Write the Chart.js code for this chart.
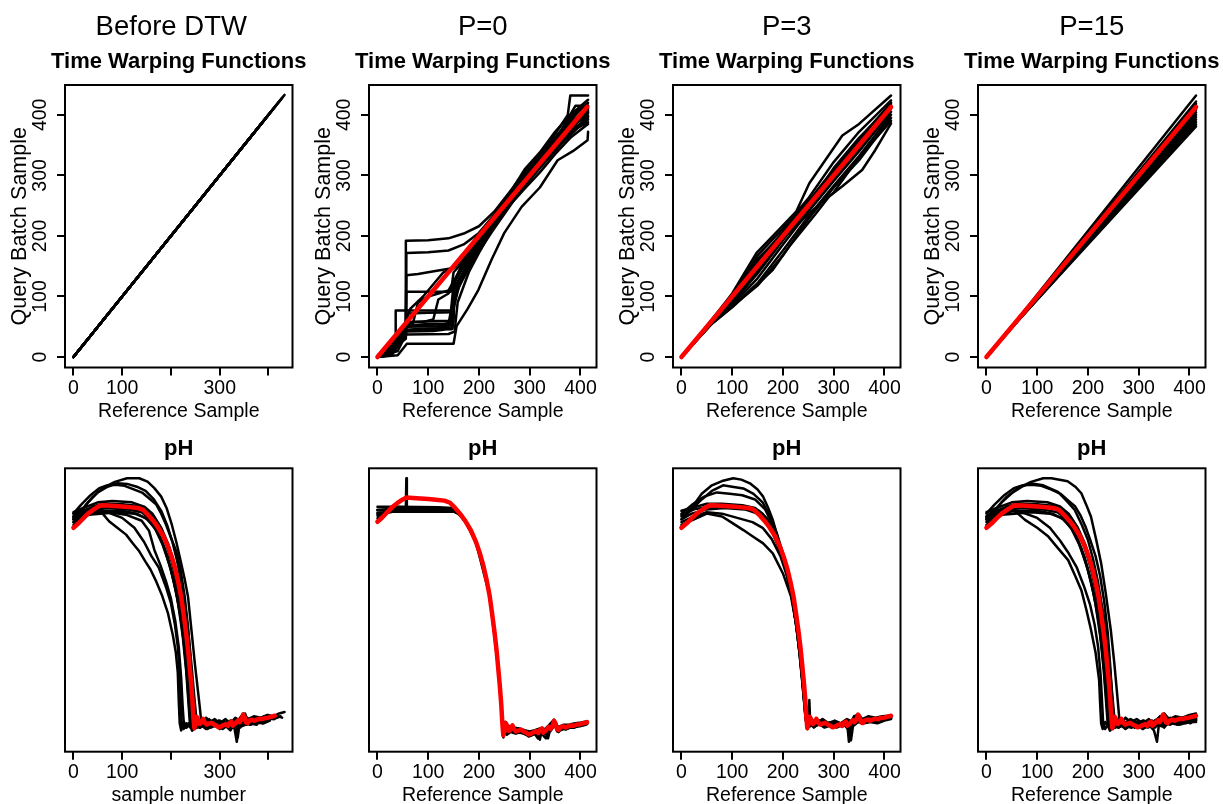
<!DOCTYPE html>
<html>
<head>
<meta charset="utf-8">
<script src="https://cdn.jsdelivr.net/npm/chart.js@4.4.1/dist/chart.umd.min.js"></script>
<style>
html,body{margin:0;padding:0;background:#fff;overflow:hidden;width:1223px;height:804px;position:relative}
canvas{position:absolute}
</style>
</head>
<body>
<canvas id="t0" width="330" height="430" style="left:0px;top:0px"></canvas>
<canvas id="t1" width="330" height="430" style="left:304px;top:0px"></canvas>
<canvas id="t2" width="330" height="430" style="left:608px;top:0px"></canvas>
<canvas id="t3" width="330" height="430" style="left:913px;top:0px"></canvas>
<canvas id="b0" width="330" height="390" style="left:0px;top:430px"></canvas>
<canvas id="b1" width="330" height="390" style="left:304px;top:430px"></canvas>
<canvas id="b2" width="330" height="390" style="left:608px;top:430px"></canvas>
<canvas id="b3" width="330" height="390" style="left:913px;top:430px"></canvas>
<script>
// ---------------- text ----------------
const columnTitles = ['Before DTW', 'P=0', 'P=3', 'P=15'];
const warpTitle = 'Time Warping Functions';
const phTitle = 'pH';
const warpXTitle = 'Reference Sample';
const warpYTitle = 'Query Batch Sample';
const phXTitles = ['sample number', 'Reference Sample', 'Reference Sample', 'Reference Sample'];

// ---------------- ticks ----------------
const xTickValues = [0, 100, 200, 300, 400];
const xTickLabelsBefore = ['0', '100', '', '300', ''];
const xTickLabelsAligned = ['0', '100', '200', '300', '400'];
const yTickValues = [0, 100, 200, 300, 400];
const yTickLabels = ['0', '100', '200', '300', '400'];

// ---------------- time warping functions (reference sample, query sample) ----------------
const warpBefore = [
  [[0,0],[433,433]], [[0,0],[428,428]], [[0,0],[422,422]], [[0,0],[415,415]],
  [[0,0],[410,410]], [[0,0],[405,405]], [[0,0],[400,400]], [[0,0],[395,395]],
  [[0,0],[390,390]], [[0,0],[385,385]], [[0,0],[380,380]], [[0,0],[376,376]]
];
const warpReference = [[0,0],[413,413]];

const warpP0 = [
  [[0,0],[25,15],[55,35],[56,192],[100,193],[140,196],[170,204],[200,216],[230,240],[260,272],[290,305],[320,335],[350,368],[375,400],[380,432],[415,432]],
  [[0,0],[30,18],[56,40],[57,172],[100,173],[140,176],[170,186],[200,205],[230,235],[260,268],[290,300],[320,330],[350,360],[380,395],[400,412],[415,415]],
  [[0,0],[30,20],[56,48],[57,135],[80,137],[120,143],[150,147],[175,168],[200,195],[230,228],[260,262],[290,296],[320,325],[350,355],[380,380],[415,405]],
  [[0,0],[28,12],[56,30],[57,108],[90,108],[145,108],[150,140],[175,163],[200,188],[230,222],[260,255],[290,288],[320,322],[350,350],[385,385],[415,398]],
  [[0,0],[20,5],[35,20],[36,77],[70,77],[145,77],[150,120],[170,150],[200,185],[230,220],[260,258],[290,290],[320,318],[350,345],[380,375],[415,392]],
  [[0,0],[25,8],[55,50],[100,55],[145,55],[152,110],[170,140],[200,180],[230,215],[260,252],[290,282],[320,312],[350,340],[380,372],[415,388]],
  [[0,0],[30,10],[55,45],[100,47],[148,48],[150,100],[165,130],[200,175],[230,212],[260,248],[290,285],[320,320],[350,352],[380,386],[415,410]],
  [[0,0],[40,3],[58,22],[150,22],[156,51],[178,80],[199,111],[225,161],[250,205],[284,248],[320,280],[355,325],[385,340],[414,358],[415,372]],
  [[0,0],[30,15],[56,55],[70,56],[80,90],[100,100],[120,105],[140,110],[160,140],[200,190],[230,226],[260,262],[290,298],[320,332],[350,362],[380,392],[415,420]],
  [[0,0],[25,10],[56,57],[90,58],[110,62],[120,95],[140,105],[155,130],[200,192],[230,230],[260,265],[290,292],[320,322],[350,358],[380,388],[415,412]],
  [[0,0],[30,5],[50,40],[56,60],[65,80],[90,100],[130,140],[155,150],[200,200],[230,232],[260,270],[290,310],[320,338],[350,372],[380,400],[415,425]],
  [[0,0],[20,2],[56,42],[110,43],[130,45],[140,55],[155,120],[200,185],[230,218],[260,250],[290,278],[320,305],[350,335],[380,362],[415,385]],
  [[0,0],[35,30],[56,52],[130,54],[150,58],[152,125],[175,170],[200,198],[240,245],[280,290],[320,330],[360,372],[390,415],[415,415]],
  [[0,0],[30,8],[56,44],[100,45],[147,46],[150,80],[160,115],[200,178],[240,232],[280,278],[320,318],[360,352],[415,398]],
  [[0,0],[35,12],[56,50],[120,51],[148,52],[151,95],[170,135],[200,182],[240,236],[280,282],[320,324],[360,362],[415,402]],
  [[0,0],[25,5],[45,20],[56,58],[100,59],[140,60],[146,62],[150,105],[175,150],[200,186],[240,238],[280,286],[320,328],[360,366],[415,408]],
  [[0,0],[40,10],[56,37],[140,38],[152,42],[158,90],[180,140],[200,172],[240,230],[280,276],[320,314],[360,350],[415,395]],
  [[0,0],[15,2],[35,25],[56,34],[60,72],[100,73],[150,74],[153,112],[180,158],[200,189],[240,240],[280,284],[320,326],[360,364],[415,404]]
];

const warpP3 = [
  [[0,0],[60,62],[100,105],[148,172],[186,205],[226,240],[252,287],[317,366],[350,385],[413,432]],
  [[0,0],[60,61],[100,100],[150,168],[200,212],[250,262],[300,322],[350,372],[413,424]],
  [[0,0],[60,59],[100,97],[150,158],[200,207],[250,257],[300,310],[350,360],[413,420]],
  [[0,0],[60,58],[100,93],[150,148],[200,201],[250,252],[300,302],[350,352],[413,414]],
  [[0,0],[60,57],[100,89],[150,138],[200,193],[250,246],[300,297],[350,346],[413,410]],
  [[0,0],[60,56],[100,86],[150,130],[200,186],[250,240],[300,291],[350,340],[413,405]],
  [[0,0],[60,55],[100,83],[150,122],[200,176],[250,232],[300,283],[350,332],[413,400]],
  [[0,0],[60,55],[100,82],[160,128],[180,144],[212,182],[265,237],[291,265],[317,282],[356,309],[382,342],[413,386]],
  [[0,0],[60,57],[100,90],[150,142],[200,196],[250,236],[300,272],[350,330],[413,390]],
  [[0,0],[60,60],[100,99],[150,162],[200,203],[250,250],[300,312],[350,362],[413,416]],
  [[0,0],[60,59],[100,95],[150,152],[200,199],[250,254],[300,305],[350,355],[413,418]],
  [[0,0],[60,56],[100,84],[150,118],[200,168],[250,228],[300,280],[350,325],[413,395]]
];

const warpP15 = [
  [[0,0],[60,61],[413,432]], [[0,0],[60,60],[413,422]], [[0,0],[60,60],[413,418]],
  [[0,0],[60,60],[413,415]], [[0,0],[60,60],[413,412]], [[0,0],[60,59],[413,408]],
  [[0,0],[60,59],[413,404]], [[0,0],[60,59],[413,400]], [[0,0],[60,59],[413,396]],
  [[0,0],[60,58],[413,392]], [[0,0],[60,58],[413,388]], [[0,0],[60,58],[413,384]],
  [[0,0],[60,58],[413,381]]
];

// ---------------- pH trajectories (sample, relative pH level) ----------------
const phReference = [[0,79],[10,80.5],[20,82.3],[30,84],[40,85.3],[50,86.4],[57,87],[70,86.9],[85,86.7],[100,86.5],[115,86.3],[132,86],[143,85.3],[153,83.6],[163,81.6],[173,79.3],[184,76.2],[194,72.4],[202,68.5],[209,64.3],[215,59.8],[221,54.6],[226,48.5],[231,42],[235,36],[238,30.5],[241,25],[244,18.5],[246,12.5],[248,8.3],[250,9.5],[253,12.3],[256,11.2],[259,9.8],[263,10.3],[266,11.6],[269,10.4],[273,9.6],[278,9.9],[283,10.2],[288,9.6],[293,9.2],[298,8.6],[303,8.9],[308,9.4],[313,9.7],[317,9.1],[320,10.1],[324,10.6],[327,9.2],[331,9.8],[335,10.6],[338,11.1],[341,10.4],[345,11.4],[348,13.1],[351,12.2],[354,10.3],[357,10.1],[361,11],[366,11.3],[371,10.9],[376,11.3],[381,11.6],[387,11.5],[393,11.9],[399,12],[405,12.3],[410,12.5],[413,12.7]];

const phBefore = [
  [[0,83],[20,86],[40,90],[60,93],[85,95.2],[110,96.5],[135,96.5],[152,95.3],[166,93],[180,90],[191,86],[201,80.6],[211,74],[221,66.5],[228,61],[235,54.7],[242,43],[249,31.2],[255,22],[259,15.9],[262,11],[266,10],[272,12],[280,10.5],[290,11.5],[300,10],[312,11.5],[322,10],[332,12],[340,11],[348,13.5],[358,11.5],[370,12.5],[384,12],[398,13],[410,12.5],[422,13.5],[433,14]],
  [[0,82],[15,84.5],[30,88],[50,91.5],[70,93.5],[90,94.7],[110,94.5],[130,93.5],[148,92],[165,89],[180,85],[192,80],[203,74],[213,67],[222,59],[230,50],[237,40],[243,29],[248,19],[252,12],[255,9],[260,11],[268,10],[278,11.5],[288,10],[300,11],[310,9.5],[322,11],[334,10],[344,12.5],[354,10.5],[366,12],[378,11],[392,12.5],[405,12]],
  [[0,84],[15,87],[35,90.5],[53,93],[70,94],[87,94.2],[105,93.8],[125,92.5],[142,91.3],[158,89],[170,87.2],[180,84],[190,80.1],[200,75.5],[211,70.7],[220,64],[228,55],[235,44],[240,32],[244,20],[247,11],[251,9],[257,10.5],[265,9],[275,10.5],[287,9.5],[298,11],[310,9],[322,10.5],[334,9.5],[344,11.5],[356,10],[368,11.5],[380,10.5],[395,11.5]],
  [[0,83],[15,84.5],[40,86.5],[60,87.5],[100,87.3],[130,86.8],[150,85.3],[165,83],[180,79],[195,73],[208,66],[220,57],[230,47],[238,35],[244,23],[248,13],[251,8.5],[256,10.5],[262,9],[270,10.5],[280,8.5],[292,10],[303,8.5],[315,10.5],[325,9],[335,11.5],[345,9.5],[355,12],[368,10.5],[380,12],[392,11],[405,12.5],[415,12]],
  [[0,81],[20,83.5],[45,85.5],[70,86],[110,85.5],[140,84.5],[158,82],[172,78],[186,72],[200,64],[212,55],[222,45],[230,33],[236,21],[240,11.5],[244,7.5],[250,10],[258,8.5],[268,10],[278,9],[290,10.5],[300,8],[310,9.5],[322,7.5],[332,10.5],[342,8.5],[352,11],[364,9.5],[376,11],[388,10],[400,11.5]],
  [[0,84.5],[20,86],[50,88],[80,88.5],[120,88],[145,86.5],[162,84],[178,79.5],[192,73.5],[205,65.5],[217,55.5],[227,44.5],[235,31.5],[241,19.5],[245,10.5],[249,8],[255,9.5],[264,11],[272,9],[284,10],[296,8.5],[308,10],[320,9],[333,10],[337,5],[341,10.5],[352,12.5],[362,10.5],[374,11.5],[386,10.5],[398,12],[410,11.5],[425,12.5]],
  [[0,82],[25,83.5],[55,84],[90,84.5],[125,84],[148,82.5],[165,79.5],[180,75],[193,69],[205,61],[215,52],[224,41],[231,29],[236,17],[239,9.5],[243,7.5],[250,9.5],[260,8.5],[270,10],[282,8.5],[294,9.5],[306,8],[318,9.5],[330,8.5],[335,3.5],[339,9],[350,10.5],[362,9.5],[375,11],[390,10],[403,11]],
  [[0,82.5],[20,84.5],[45,86.5],[65,87.5],[105,87],[135,86],[155,84],[170,81],[185,76],[199,69],[211,61],[222,51],[231,39],[238,27],[244,15.5],[247,9.5],[252,8.5],[258,10.5],[266,9],[276,10.5],[288,9.5],[300,10.5],[312,9],[324,11],[336,9.5],[346,12],[356,10.5],[368,12],[380,11],[394,12],[408,11.5],[420,12.5],[428,12]],
  [[0,80],[20,82.5],[40,84.5],[60,85],[100,85],[130,84],[152,82],[168,78.5],[183,73],[197,66],[209,58],[219,49],[227,38],[233,26],[238,14.5],[241,8.5],[246,10],[254,8.5],[262,9.5],[272,8],[284,9.5],[296,9],[308,10.5],[320,9.5],[330,11],[342,9.5],[354,11],[366,10],[378,11.5],[392,10.5]],
  [[0,84],[30,85.5],[60,86.5],[95,86],[130,85.5],[155,83.5],[172,80],[188,74.5],[202,67],[214,58],[224,48],[233,36],[240,24],[246,13.5],[250,9],[254,10.5],[260,8.5],[268,10],[278,8.5],[290,10],[302,9],[314,10.5],[326,9.5],[336,11.5],[346,10],[352,13.5],[358,10.5],[370,11.5],[384,10.5],[398,12],[412,11.5]],
  [[0,83],[20,85],[45,86],[60,84],[73,81.3],[90,79],[108,76.6],[122,73.5],[135,70.7],[148,67],[158,64.3],[170,60],[182,55],[194,48.8],[204,41],[210,35],[214,28],[216,18],[218,10],[221,7.5],[226,10.5],[232,8.5],[240,10],[250,8.5],[262,9.5],[275,8],[288,9.5],[300,8.5],[314,10],[328,9],[340,10.5],[352,9.5],[365,10.5],[380,10]],
  [[0,82],[20,84],[45,85.5],[70,84.5],[100,82.5],[125,79],[145,74],[160,69],[175,65],[190,58],[200,52.4],[208,45],[214,37],[218,27],[220,17],[222,10],[226,8],[232,10],[240,8.5],[252,10],[264,9],[276,10],[290,9],[304,10],[318,8.5],[332,9.5],[346,9],[360,10],[376,9.5]],
  [[0,81],[20,83],[45,84.5],[75,84.5],[110,83.5],[140,81.5],[155,78],[166,71.2],[178,66],[190,60],[200,54],[209,46],[216,37],[221,26],[224,16],[226,11],[230,8.5],[236,10],[244,8.5],[256,9.5],[270,8.5],[284,10],[298,9],[312,9.5],[326,8.5],[340,10],[354,9.5],[370,10.5],[388,10]]
];

const phP0 = [
  [[0,84],[20,84],[56,83.8],[57,93.4],[58,83.8],[100,83.6],[140,83.4],[152,83],[163,81.2],[173,79],[184,75.8],[194,72],[202,68.2],[209,64],[215,59.5],[221,54.3],[226,48.2],[231,41.7],[235,35.7],[238,30.2],[241,24.7],[244,18.2],[246,12.2],[248,7.6],[250,8.8],[253,11.6],[256,10.5],[259,9.1],[263,9.6],[266,10.9],[269,9.7],[273,8.9],[278,9.2],[283,9.5],[288,8.9],[293,8.5],[298,7.9],[303,8.2],[308,8.7],[313,9],[317,8.4],[320,9.4],[324,9.9],[327,8.5],[331,9.1],[335,9.9],[338,10.4],[341,9.7],[345,10.7],[348,12.4],[351,11.5],[354,9.6],[357,9.4],[361,10.3],[366,10.6],[371,10.2],[376,10.6],[381,10.9],[387,10.8],[393,11.2],[399,11.3],[405,11.6],[410,11.8],[413,12]],
  [[0,81],[14,81.2],[24,82.8],[30,83],[60,83.1],[100,83],[140,82.8],[150,82.5],[160,81.5],[173,79.2],[184,76],[194,72.2],[209,64.2],[221,54.5],[231,41.8],[238,30.3],[244,18.3],[248,8],[251,9.5],[255,8.5],[262,9.5],[270,9],[280,9.3],[290,8.8],[300,8.2],[310,8.8],[316,7.3],[320,9.8],[328,8],[332,7.3],[336,10.3],[345,10.8],[348,12.5],[354,9.8],[362,10.5],[372,10.6],[384,11],[396,11.5],[413,12.2]],
  [[0,80.2],[8,80.3],[20,82],[30,82.3],[60,82.3],[100,82.3],[140,82.3],[150,82.4],[160,81.7],[173,79.4],[184,76.1],[194,72.3],[209,64.3],[221,54.6],[231,42],[238,30.5],[244,18.5],[248,8.5],[252,12.8],[256,11.8],[263,10.9],[270,10.8],[280,10.6],[290,10],[300,9.6],[310,10],[320,10.6],[330,10.4],[338,11.7],[348,13.5],[356,11],[366,11.8],[378,11.9],[390,12.3],[402,12.6],[413,13]],
  [[0,82],[20,82.2],[27,83.3],[60,83.3],[100,83.2],[140,83],[150,82.8],[158,82],[163,81.4],[173,79.1],[184,75.9],[194,72.1],[209,64.1],[221,54.4],[231,41.9],[238,30.4],[244,18.4],[248,8.1],[253,11.9],[259,9.4],[266,11.2],[273,9.2],[283,9.8],[293,8.8],[303,8.5],[313,9.3],[320,6.9],[324,10],[331,9.4],[336,7.3],[340,10.1],[348,12.7],[354,10],[361,10.6],[371,10.5],[381,11.2],[393,11.5],[405,11.9],[413,12.3]],
  [[0,83],[25,83.2],[40,84],[80,83.9],[120,83.8],[148,83.6],[158,82.3],[166,80.8],[175,78.8],[186,75.4],[196,71.6],[209,64.2],[221,54.5],[231,41.9],[238,30.4],[244,18.4],[248,8.2],[251,10.2],[256,10.8],[263,9.9],[270,10.1],[280,9.6],[290,9.3],[300,8.7],[310,9.2],[320,9.7],[330,9.5],[340,10.6],[348,12.8],[356,10.1],[366,11],[378,11.1],[390,11.6],[402,12],[413,12.4]],
  [[0,82.8],[60,82.8],[100,82.7],[140,82.8],[152,82.6],[163,81.3],[173,79.1],[184,75.9],[194,72.1],[209,64.1],[221,54.4],[231,41.8],[238,30.3],[244,18.3],[248,7.9],[252,10.4],[258,9.3],[266,10.4],[276,9.2],[288,9.1],[298,8.3],[308,8.9],[318,8.8],[326,8.8],[334,9.6],[342,10.2],[348,12.6],[356,9.9],[368,10.8],[380,11.2],[394,11.6],[413,12.3]],
  [[0,81.6],[18,81.8],[26,83.6],[60,83.7],[120,83.6],[150,83.3],[160,81.9],[173,79.2],[194,72.2],[221,54.5],[238,30.4],[248,8.1],[254,10.5],[264,9.7],[276,9.5],[290,9.1],[304,8.6],[318,9.2],[330,9.3],[340,10.2],[348,12.4],[358,9.8],[372,10.7],[388,11.1],[413,12.1]]
];

const phP3 = [
  [[0,83],[20,86],[40,91],[60,94],[80,95.5],[102,96.5],[118,96],[135,94.7],[150,92.5],[161,90],[171,86],[180,81.8],[190,75.5],[200,69],[210,62],[220,52],[228,42],[234,33],[240,22],[245,12],[248,8],[251,9],[252,18.2],[254,9],[262,11],[270,9.5],[282,10.5],[295,9],[306,10.5],[318,9.5],[326,11],[330,3.5],[333,10],[342,12],[350,13],[356,10.5],[366,11.5],[378,11],[392,12],[405,12],[413,12.5]],
  [[0,82],[20,85.5],[40,89],[60,92],[82,94],[100,93.5],[122,92.9],[142,91],[160,88],[175,83],[188,77],[200,70],[212,61],[222,50],[230,40],[236,30],[241,20],[245,11],[249,8.5],[256,11],[266,9.5],[278,11],[290,9.5],[302,10],[314,9],[324,10.5],[334,9],[344,12],[352,12.5],[360,10.5],[372,11.5],[386,11],[400,12],[413,12.2]],
  [[0,84],[20,87],[45,90],[70,91.5],[95,91],[120,90.5],[145,89],[165,85.5],[180,80],[194,73],[206,65],[217,55],[226,45],[233,35],[239,24],[244,14],[248,9],[253,10.5],[262,9],[274,10.5],[288,9],[300,10],[312,9],[322,11],[332,7],[336,10],[346,11.5],[356,11],[368,11],[382,11.5],[396,11.5],[413,12]],
  [[0,80],[25,82],[50,84],[80,83],[96,81.2],[122,78.2],[140,76],[161,73.5],[180,70],[200,62.9],[216,54.7],[225,46],[232,36],[238,25],[243,15],[247,9],[252,10.5],[260,9.5],[272,10.5],[286,9.5],[298,10],[310,9],[320,10.5],[330,9],[340,11.5],[352,11],[364,11],[378,10.5],[392,11.5],[413,12]],
  [[0,81],[25,83],[50,84.5],[80,84],[110,82.5],[140,81],[160,79],[178,75],[195,69],[208,62],[219,53],[228,43],[235,32],[241,21],[245,12],[249,8.5],[255,10],[264,9],[276,10],[290,9],[304,10.5],[318,9.5],[330,10.5],[342,10],[354,11],[368,10.5],[384,11],[400,11.5],[413,11.8]],
  [[0,85],[20,86],[50,87.5],[80,87.5],[120,87],[145,86],[160,84],[175,80],[190,74.5],[204,67],[216,58],[226,47],[233,36],[239,25],[244,15],[248,9],[254,11],[262,9.5],[272,11],[284,10],[296,10.5],[308,9.5],[320,10.5],[330,9],[340,12.5],[348,13],[358,11],[370,11.5],[384,11],[398,12],[413,12.3]],
  [[0,82],[20,84],[50,85.5],[85,86],[125,85.5],[150,84],[166,81.5],[180,77],[194,71],[206,63.5],[217,55],[226,45],[233,34],[239,23],[244,13],[248,8],[253,10],[261,8.5],[270,10],[282,8.5],[294,9.5],[306,8.5],[318,10],[328,8],[334,4],[338,9],[348,10.5],[360,10],[372,10.5],[386,10],[400,11],[413,11.5]],
  [[0,83.5],[25,85.5],[55,86.5],[90,86.5],[128,86],[152,85],[168,82.5],[182,78],[196,72],[208,64.5],[218,56],[227,46],[234,35],[240,24],[245,13.5],[249,9],[256,11.5],[266,10],[278,11.5],[290,10],[302,11],[314,10],[326,11.5],[338,10.5],[346,13],[356,11.5],[368,12.5],[382,12],[396,12.5],[413,12.8]]
];

const phP15 = [
  [[0,83],[20,86],[40,90],[62,93],[88,95.2],[112,96.5],[128,96.5],[160,95.4],[175,93.5],[187,91.2],[197,87],[206,82.9],[216,75],[226,66.5],[235,56],[245,43],[252,31.2],[258,19.4],[262,11.2],[266,10],[274,12],[284,10.5],[296,11.5],[308,10],[320,11.5],[330,10],[340,12],[350,13.5],[360,11.5],[372,12.5],[386,12],[400,13],[413,13.5]],
  [[0,82],[15,84.5],[30,88],[52,91.5],[70,93.5],[86,94.7],[112,94],[141,91.7],[158,88.5],[174,85.3],[188,80],[200,74.7],[210,68],[219,60.6],[228,51],[236,43],[243,30],[248,20],[252,12],[256,9],[262,11],[272,10],[284,11.5],[296,10],[308,11],[320,9.5],[332,11],[344,12.5],[356,10.5],[370,12],[386,11.5],[400,12],[413,12.5]],
  [[0,84],[15,87],[35,90.5],[54,93],[72,94],[90,94.2],[108,93.8],[128,92.5],[146,91],[162,88.5],[175,86.5],[185,83.5],[195,79.5],[205,74.5],[215,69],[224,62],[232,53],[239,42],[244,30],[248,18],[251,10.5],[255,9],[262,10.5],[272,9],[284,10.5],[298,9.5],[310,11],[322,9],[334,10.5],[346,11.5],[358,10],[372,11.5],[388,10.5],[413,11.5]],
  [[0,83],[20,85],[45,86],[62,84],[76,81.8],[100,79],[122,75.9],[140,72],[161,67.6],[175,62],[187,57],[197,50],[206,43],[215,35],[222,25.3],[224,17],[226,10],[229,8],[234,10.5],[242,8.5],[252,10],[264,9],[278,10],[292,8.5],[306,10],[320,9],[334,10.5],[348,9.5],[362,10.5],[378,10],[396,10.5],[413,11]],
  [[0,82],[20,84],[45,85.5],[70,84.5],[100,82.5],[125,79],[145,74.5],[162,70],[178,65],[193,58],[204,52],[213,45],[220,37],[225,27],[228,17],[230,10],[234,8],[240,10],[250,8.5],[262,10],[276,9],[290,10],[304,9],[318,8.5],[332,9.5],[346,9],[362,10],[380,9.5],[398,10.5],[413,10.5]],
  [[0,83],[15,84.5],[40,86.5],[60,87.5],[100,87.3],[130,86.8],[150,85.3],[165,83],[180,79],[195,73],[208,66],[220,57],[230,47],[238,35],[244,23],[248,13],[251,8.5],[256,10.5],[264,9],[274,10.5],[286,8.5],[298,10],[310,8.5],[322,10.5],[332,9],[342,11.5],[352,9.5],[362,12],[374,10.5],[386,12],[400,11],[413,12.5]],
  [[0,81],[20,83.5],[45,85.5],[70,86],[110,85.5],[140,84.5],[158,82],[172,78],[186,72],[200,64],[212,55],[222,45],[230,33],[236,21],[240,11.5],[244,7.5],[250,10],[260,8.5],[272,10],[284,9],[296,10.5],[308,8],[320,9.5],[330,7.5],[336,3.5],[340,10],[350,8.5],[362,11],[376,9.5],[390,11],[402,10],[413,11.5]],
  [[0,84.5],[20,86],[50,88],[80,88.5],[120,88],[145,86.5],[162,84],[178,79.5],[192,73.5],[205,65.5],[217,55.5],[227,44.5],[235,31.5],[241,19.5],[245,10.5],[249,8],[255,9.5],[264,11],[274,9],[286,10],[298,8.5],[310,10],[322,9],[334,10],[342,12.5],[352,10.5],[364,11.5],[376,10.5],[390,12],[402,11.5],[413,12.5]],
  [[0,82],[25,83.5],[55,84],[90,84.5],[125,84],[148,82.5],[165,79.5],[180,75],[193,69],[205,61],[215,52],[224,41],[231,29],[236,17],[239,9.5],[243,7.5],[250,9.5],[260,8.5],[272,10],[284,8.5],[296,9.5],[308,8],[320,9.5],[332,8.5],[340,10],[350,10.5],[362,9.5],[376,11],[392,10],[413,11]],
  [[0,82.5],[20,84.5],[45,86.5],[65,87.5],[105,87],[135,86],[155,84],[170,81],[185,76],[199,69],[211,61],[222,51],[231,39],[238,27],[244,15.5],[247,9.5],[252,8.5],[258,10.5],[268,9],[278,10.5],[290,9.5],[302,10.5],[314,9],[326,11],[336,9.5],[346,12],[356,10.5],[368,12],[380,11],[394,12],[413,12]],
  [[0,80],[20,82.5],[40,84.5],[60,85],[100,85],[130,84],[152,82],[168,78.5],[183,73],[197,66],[209,58],[219,49],[227,38],[233,26],[238,14.5],[241,8.5],[246,10],[254,8.5],[264,9.5],[274,8],[286,9.5],[298,9],[310,10.5],[322,9.5],[332,11],[344,9.5],[356,11],[368,10],[382,11.5],[396,10.5],[413,11.5]]
];

// ---------------- axis ranges ----------------
const xRangeBefore = [-17.3, 449.3];
const xRangeAligned = [-16.6, 431.6];
const warpYRange = [-17.3, 449.3];
const phYRange = [0, 100];
const phYRangeP0 = [2.9, 96.7];

// ---------------- drawing ----------------
const FONT = "'Liberation Sans', Arial, Helvetica, sans-serif";
const toPts = a => a.map(p => ({x: p[0], y: p[1]}));

const framePlugin = {
  id: 'frame',
  afterDatasetsDraw(chart) {
    const a = chart.chartArea, ctx = chart.ctx;
    ctx.save();
    ctx.strokeStyle = '#000';
    ctx.lineWidth = 2;
    ctx.strokeRect(a.left, a.top, a.right - a.left, a.bottom - a.top);
    ctx.restore();
  }
};
const titlesPlugin = {
  id: 'titles',
  afterDraw(chart, args, opts) {
    const a = chart.chartArea, ctx = chart.ctx;
    const cx = (a.left + a.right) / 2;
    ctx.save();
    ctx.fillStyle = '#000';
    ctx.textAlign = 'center';
    ctx.textBaseline = 'alphabetic';
    (opts.lines || []).forEach(l => { ctx.font = l.font; ctx.fillText(l.text, cx + (l.dx || 0), l.y); });
    ctx.restore();
  }
};

function makeChart(id, o) {
  const ds = [];
  if (o.red) ds.push({data: toPts(o.red), borderColor: '#ff0000', borderWidth: 4.5, order: 0});
  o.black.forEach(l => ds.push({data: toPts(l), borderColor: '#000000', borderWidth: 2.5, order: 1}));
  ds.forEach(d => Object.assign(d, {showLine: true, pointRadius: 0, pointHoverRadius: 0, fill: false,
    tension: 0, borderCapStyle: 'round', borderJoinStyle: 'round'}));
  const tickGrid = {drawOnChartArea: false, drawTicks: true, tickLength: 8, color: '#000', lineWidth: 2};
  const tickFont = {family: FONT, size: 19.5};
  const yScale = o.top ? {
    type: 'linear', position: 'left', min: o.yr[0], max: o.yr[1],
    afterBuildTicks: s => { s.ticks = yTickValues.map(v => ({value: v})); },
    afterFit: s => { s.width = 65; },
    ticks: {autoSkip: false, minRotation: 90, maxRotation: 90, crossAlign: 'center', padding: 0,
      color: '#000', font: tickFont, callback: (v, i) => yTickLabels[i]},
    grid: tickGrid, border: {display: false},
    title: {display: true, text: warpYTitle, color: '#000', font: {family: FONT, size: 21.5}, padding: {top: 7.5, bottom: 0}}
  } : {type: 'linear', display: false, min: o.yr[0], max: o.yr[1]};
  new Chart(document.getElementById(id), {
    type: 'scatter',
    data: {datasets: ds},
    options: {
      responsive: false, animation: false, devicePixelRatio: 1, events: [],
      layout: {padding: {left: o.top ? 0 : 65, top: o.top ? 85 : 38.3, right: 37.5, bottom: 0}},
      plugins: {legend: {display: false}, tooltip: {enabled: false}, title: {display: false},
        titles: {lines: o.titles}},
      scales: {
        x: {
          type: 'linear', position: 'bottom', min: o.xr[0], max: o.xr[1],
          afterBuildTicks: s => { s.ticks = xTickValues.map(v => ({value: v})); },
          afterFit: s => { s.height = o.top ? 62.5 : 68.3; },
          ticks: {autoSkip: false, minRotation: 0, maxRotation: 0, padding: 1, color: '#000', font: tickFont,
            callback: (v, i) => o.xLabels[i]},
          grid: tickGrid, border: {display: false},
          title: {display: true, text: o.xTitle, color: '#000', font: tickFont,
            padding: {top: 0, bottom: o.top ? 7.1 : 12.9}}
        },
        y: yScale
      }
    },
    plugins: [framePlugin, titlesPlugin]
  });
}

const topTitles = (i, dx) => [
  {text: columnTitles[i], font: `27.5px ${FONT}`, y: 35, dx: dx},
  {text: warpTitle, font: `bold 22px ${FONT}`, y: 68}
];
const bottomTitles = [{text: phTitle, font: `bold 22px ${FONT}`, y: 25}];

makeChart('t0', {top: true, black: warpBefore, xr: xRangeBefore, yr: warpYRange, xLabels: xTickLabelsBefore, xTitle: warpXTitle, titles: topTitles(0, -7.5)});
makeChart('t1', {top: true, black: warpP0, red: warpReference, xr: xRangeAligned, yr: warpYRange, xLabels: xTickLabelsAligned, xTitle: warpXTitle, titles: topTitles(1, 0)});
makeChart('t2', {top: true, black: warpP3, red: warpReference, xr: xRangeAligned, yr: warpYRange, xLabels: xTickLabelsAligned, xTitle: warpXTitle, titles: topTitles(2, 0)});
makeChart('t3', {top: true, black: warpP15, red: warpReference, xr: xRangeAligned, yr: warpYRange, xLabels: xTickLabelsAligned, xTitle: warpXTitle, titles: topTitles(3, 0)});

makeChart('b0', {top: false, black: phBefore, red: phReference, xr: xRangeBefore, yr: phYRange, xLabels: xTickLabelsBefore, xTitle: phXTitles[0], titles: bottomTitles});
makeChart('b1', {top: false, black: phP0, red: phReference, xr: xRangeAligned, yr: phYRangeP0, xLabels: xTickLabelsAligned, xTitle: phXTitles[1], titles: bottomTitles});
makeChart('b2', {top: false, black: phP3, red: phReference, xr: xRangeAligned, yr: phYRange, xLabels: xTickLabelsAligned, xTitle: phXTitles[2], titles: bottomTitles});
makeChart('b3', {top: false, black: phP15, red: phReference, xr: xRangeAligned, yr: phYRange, xLabels: xTickLabelsAligned, xTitle: phXTitles[3], titles: bottomTitles});
</script>
</body>
</html>
